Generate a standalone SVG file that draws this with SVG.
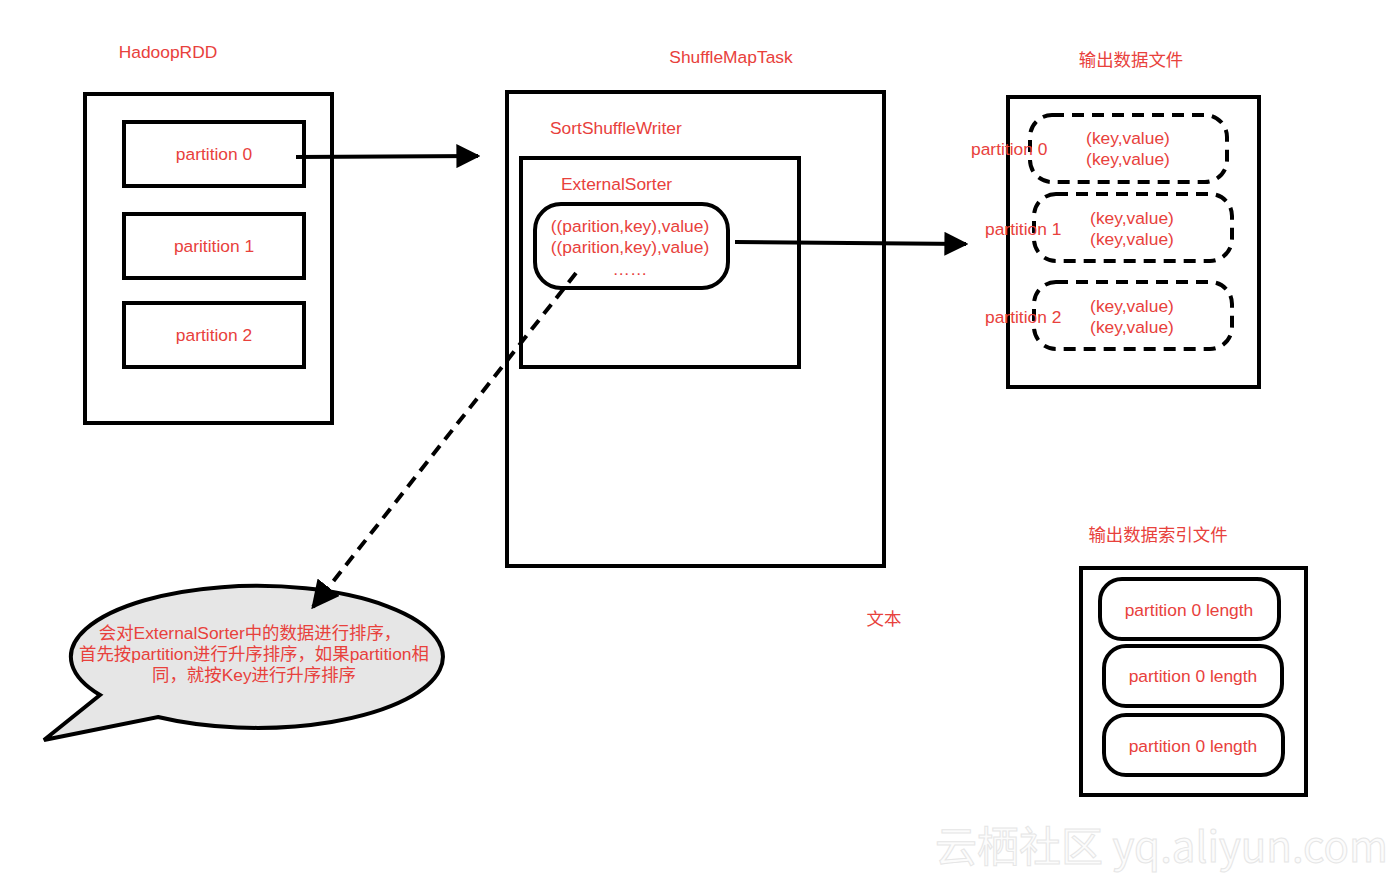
<svg xmlns="http://www.w3.org/2000/svg" width="1400" height="875" viewBox="0 0 1400 875">
<defs>
<marker id="ah" viewBox="0 0 10 10" refX="9" refY="5" markerWidth="6" markerHeight="6" markerUnits="strokeWidth" orient="auto"><path d="M0,0 L10,5 L0,10 Z" fill="#000"/></marker>
<marker id="ah2" viewBox="0 0 10 10" refX="9" refY="5" markerWidth="7" markerHeight="7" markerUnits="strokeWidth" orient="auto"><path d="M0,0 L10,5 L0,10 Z" fill="#000"/></marker>
</defs>
<style>
.box{fill:#fff;stroke:#000;stroke-width:4}
.dash{fill:none;stroke:#000;stroke-width:4;stroke-dasharray:12 8}
.t{font-family:"Liberation Sans","Noto Sans CJK SC",sans-serif;font-size:17.4px;fill:#e8413c}
.c{text-anchor:middle}
.edge{fill:none;stroke:#000;stroke-width:4}
</style>
<rect width="1400" height="875" fill="#fff"/>
<text x="935" y="862" font-family="'Noto Sans CJK SC','Liberation Sans',sans-serif" font-size="42" fill="#fcfcfc" stroke="#e6e6e6" stroke-width="1">云栖社区 yq.aliyun.com</text>
<g id="hadooprdd">
<text class="t c" x="168" y="58">HadoopRDD</text>
<rect class="box" x="85" y="94" width="247" height="329"/>
</g>
<g id="p0"><rect class="box" x="124" y="122" width="180" height="64"/><text class="t c" x="214" y="160">partition 0</text></g>
<g id="p1"><rect class="box" x="124" y="214" width="180" height="64"/><text class="t c" x="214" y="252">paritition 1</text></g>
<g id="p2"><rect class="box" x="124" y="303" width="180" height="64"/><text class="t c" x="214" y="341">partition 2</text></g>
<g id="shufflemaptask">
<text class="t c" x="731" y="63">ShuffleMapTask</text>
<rect class="box" x="507" y="92" width="377" height="474"/>
<text class="t" x="550" y="134">SortShuffleWriter</text>
</g>
<g id="externalsorter">
<rect class="box" x="521" y="158" width="278" height="209"/>
<text class="t" x="561" y="190">ExternalSorter</text>
</g>
<g id="records">
<rect class="box" x="535" y="204" width="193" height="84" rx="26"/>
<text class="t c" x="630" y="232">((parition,key),value)</text>
<text class="t c" x="630" y="253">((parition,key),value)</text>
<text class="t c" x="630" y="275" font-size="12">……</text>
</g>
<g id="textlabel"><text class="t c" x="884" y="625">文本</text></g>
<g id="datafile">
<text class="t c" x="1131" y="66">输出数据文件</text>
<rect class="box" x="1008" y="97" width="251" height="290"/>
<rect class="dash" x="1030" y="115" width="197" height="67" rx="22"/>
<rect class="dash" x="1034" y="194" width="198" height="67" rx="22"/>
<rect class="dash" x="1034" y="282" width="198" height="67" rx="22"/>
<text class="t" x="971" y="155">partition 0</text>
<text class="t" x="985" y="235">partition 1</text>
<text class="t" x="985" y="323">partition 2</text>
<text class="t c" x="1128" y="144">(key,value)</text>
<text class="t c" x="1128" y="165">(key,value)</text>
<text class="t c" x="1132" y="224">(key,value)</text>
<text class="t c" x="1132" y="245">(key,value)</text>
<text class="t c" x="1132" y="312">(key,value)</text>
<text class="t c" x="1132" y="333">(key,value)</text>
</g>
<g id="indexfile">
<text class="t c" x="1158" y="541">输出数据索引文件</text>
<rect class="box" x="1081" y="568" width="225" height="227"/>
<rect class="box" x="1100" y="579" width="179" height="60" rx="22"/>
<rect class="box" x="1104" y="646" width="178" height="60" rx="22"/>
<rect class="box" x="1104" y="715" width="179" height="60" rx="22"/>
<text class="t c" x="1189" y="616">partition 0 length</text>
<text class="t c" x="1193" y="682">partition 0 length</text>
<text class="t c" x="1193" y="752">partition 0 length</text>
</g>
<g id="bubble">
<path d="M100,695 L44,740 L158,717 A186,71 0 1 0 100,695 Z" fill="#e6e6e6" stroke="#000" stroke-width="4" stroke-linejoin="miter"/>
<text class="t c" x="250" y="639">会对ExternalSorter中的数据进行排序，</text>
<text class="t c" x="254" y="660">首先按partition进行升序排序，如果partition相</text>
<text class="t c" x="254" y="681">同，就按Key进行升序排序</text>
</g>
<g id="connectors">
<path class="edge" d="M296,157 L478,156" marker-end="url(#ah)"/>
<path class="edge" d="M735,242 L966,244" marker-end="url(#ah)"/>
<path class="edge" d="M576,273 L313,607" stroke-dasharray="12 8" marker-end="url(#ah2)"/>
</g>
</svg>
